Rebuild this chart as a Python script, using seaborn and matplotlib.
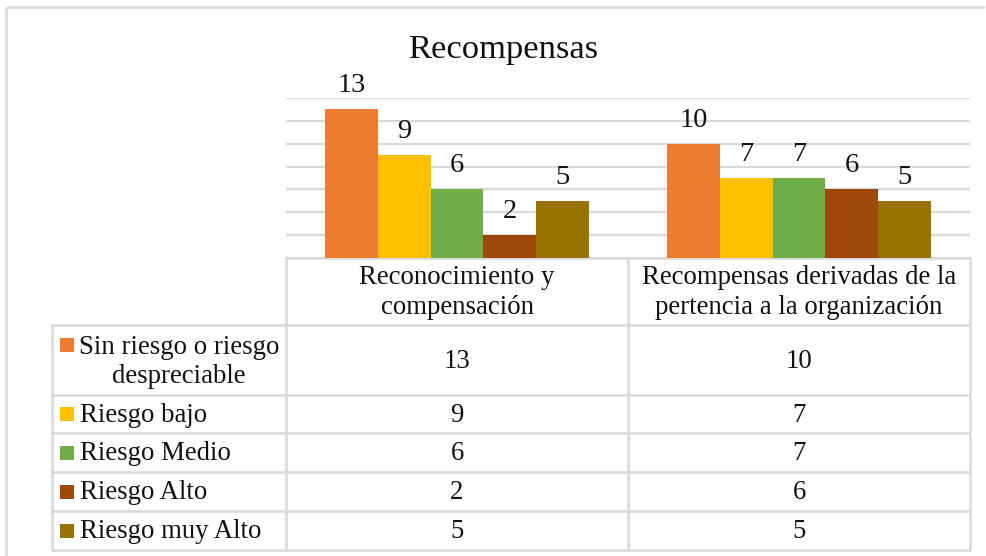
import matplotlib
matplotlib.use("Agg")
import matplotlib.pyplot as plt
import seaborn as sns
import pandas as pd

categories = ["Reconocimiento y\ncompensación",
              "Recompensas derivadas de la\npertencia a la organización"]
series = ["Sin riesgo o riesgo\ndespreciable", "Riesgo bajo", "Riesgo Medio",
          "Riesgo Alto", "Riesgo muy Alto"]
values = {
    "Sin riesgo o riesgo\ndespreciable": [13, 10],
    "Riesgo bajo": [9, 7],
    "Riesgo Medio": [6, 7],
    "Riesgo Alto": [2, 6],
    "Riesgo muy Alto": [5, 5],
}
colors = ["#ED7D31", "#FFC000", "#70AD47", "#9E480E", "#997300"]
title = "Recompensas"

rows = []
for s in series:
    for c, v in zip(categories, values[s]):
        rows.append({"cat": c, "serie": s, "val": v})
df = pd.DataFrame(rows)

sns.set_theme(style="white")
plt.rcParams["font.family"] = ["Liberation Serif", "DejaVu Serif"]

W, H = 986, 556
fig = plt.figure(figsize=(W / 100, H / 100), dpi=100)
fig.patch.set_facecolor("white")

# pixel layout
L, R, T, B = 286, 970, 98, 258
ax = fig.add_axes([L / W, 1 - B / H, (R - L) / W, (B - T) / H])
sns.barplot(data=df, x="cat", y="val", hue="serie", hue_order=series,
            order=categories, palette=colors, saturation=1, width=0.77,
            ax=ax, legend=False, edgecolor="none", linewidth=0)
ax.set_xlim(-0.5, 1.5)
ax.set_ylim(0, 14)
ax.set_yticks(range(0, 15, 2))
ax.yaxis.grid(True, color="#d9d9d9", linewidth=1.6)
ax.set_axisbelow(True)
ax.set_xticks([])
ax.set_yticklabels([])
ax.tick_params(left=False, bottom=False)
ax.set_xlabel("")
ax.set_ylabel("")
for sp in ax.spines.values():
    sp.set_visible(False)
for cont in ax.containers:
    ax.bar_label(cont, padding=8, fontsize=20.5, color="#111111")

# overlay in pixel coordinates for table, border and title
ov = fig.add_axes([0, 0, 1, 1], zorder=-1)
ov.set_xlim(0, W)
ov.set_ylim(H, 0)
ov.axis("off")

lc = "#d9d9d9"
lw = 1.8
# outer chart border
ov.plot([6, 6], [7, H], color=lc, lw=lw, solid_capstyle="butt")
ov.plot([6, 985], [7, 7], color=lc, lw=lw, solid_capstyle="butt")

fig.text(503 / W, 1 - 50 / H, title, ha="center", va="center",
         fontsize=24.8, color="#111111")

# table geometry from axes scale
def xpix(xd):
    disp = ax.transData.transform((xd, 0))
    return disp[0] * W / fig.bbox.width

col_edges = [xpix(-0.5), xpix(0.5), xpix(1.5)]
col_centers = [xpix(0), xpix(1)]
left_edge = 52
row_y = [B, 325, 395, 433, 472, 511, 550]

ov.plot([col_edges[0], col_edges[-1]], [row_y[0], row_y[0]], color=lc, lw=lw)
for y in row_y[1:]:
    ov.plot([left_edge, col_edges[-1]], [y, y], color=lc, lw=lw)
ov.plot([left_edge, left_edge], [row_y[1], row_y[-1]], color=lc, lw=lw)
for x in col_edges:
    ov.plot([x, x], [row_y[0], row_y[-1]], color=lc, lw=lw)

fs = 19.3
for c, xc in zip(categories, col_centers):
    ov.text(xc, (row_y[0] + row_y[1]) / 2 + 1, c, ha="center", va="center",
            fontsize=fs, color="#111111", linespacing=1.25)

for i, s in enumerate(series):
    y0, y1 = row_y[i + 1], row_y[i + 2]
    ym = (y0 + y1) / 2
    if "\n" in s:
        key_y = y0 + 20
        ov.text(179, ym + 2, s, ha="center", va="center", fontsize=fs,
                color="#111111", linespacing=1.25, multialignment="center")
    else:
        key_y = ym
        ov.text(80, ym + 1, s, ha="left", va="center", fontsize=fs,
                color="#111111")
    ov.add_patch(plt.Rectangle((60, key_y - 7), 14, 14, color=colors[i], lw=0))
    for j, xc in enumerate(col_centers):
        ov.text(xc, ym + 1, str(values[s][j]), ha="center", va="center",
                fontsize=fs, color="#111111")

fig.savefig("out.png", dpi=100, facecolor="white")
